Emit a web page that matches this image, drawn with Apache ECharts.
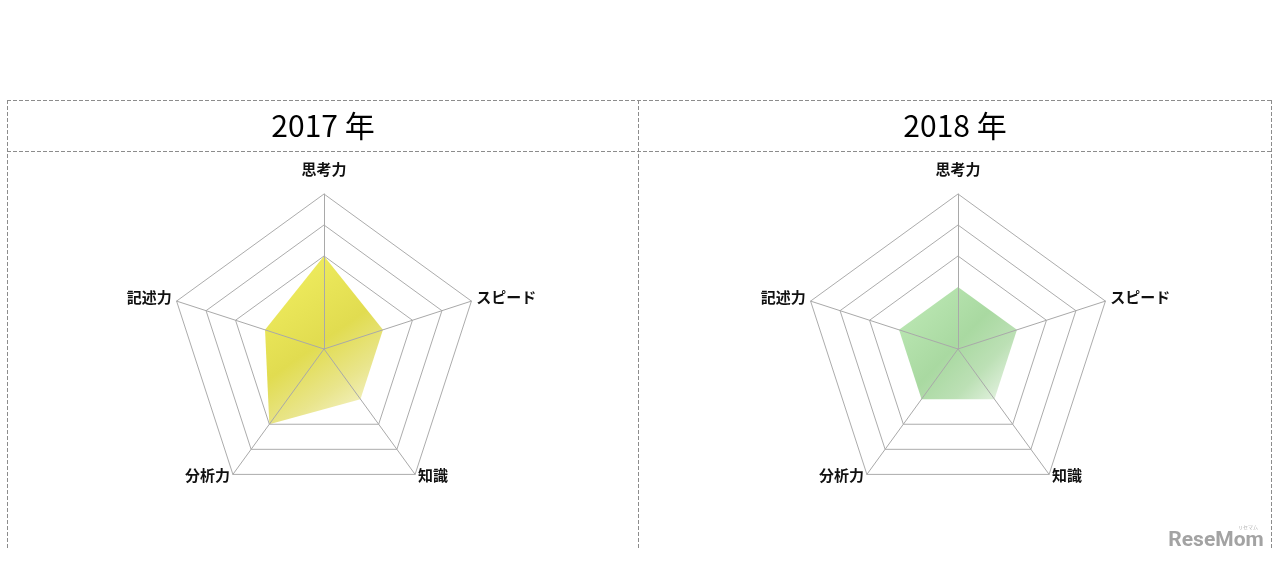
<!DOCTYPE html>
<html>
<head>
<meta charset="utf-8">
<script src="https://cdn.jsdelivr.net/npm/echarts@6/dist/echarts.min.js"></script>
<style>
html,body{margin:0;padding:0;background:#fff;}
#chart{width:1280px;height:564px;}
</style>
</head>
<body>
<div id="chart"></div>
<script>
// ---- data (indicators listed clockwise from the top, as in the picture) ----
const indicators = ['思考力', 'スピード', '知識', '分析力', '記述力'];
const values2017 = [3, 2, 2, 3, 2];
const values2018 = [2, 2, 2, 2, 2];
const panelTitles = ['2017 年', '2018 年'];
const axisMax = 5;

// ECharts lays indicators counter-clockwise; reorder so the picture reads clockwise
const ccwOrder = [0, 4, 3, 2, 1];
const ccw = arr => ccwOrder.map(i => arr[i]);

const chart = echarts.init(document.getElementById('chart'), null, {renderer: 'canvas'});

const labelFont = {fontSize: 15, fontWeight: 'bold', color: '#111', fontFamily: '"Noto Sans CJK JP", sans-serif'};

function radarComp(center) {
  return {
    center: center,
    radius: 155,
    startAngle: 90,
    shape: 'polygon',
    splitNumber: 5,
    z: 3,
    axisNameGap: 5,
    indicator: ccw(indicators).map(n => ({name: n, min: 0, max: axisMax})),
    axisName: Object.assign({}, labelFont, {
      formatter: function (name) {
        const i = indicators.indexOf(name);
        if (i === 0) return '{top|' + name + '}';
        if (i === 2 || i === 3) return '{low|' + name + '}';
        return '{side|' + name + '}';
      },
      rich: {
        top: Object.assign({}, labelFont, {padding: [0, 0, 12, 0]}),
        side: Object.assign({}, labelFont, {padding: [0, 0, 4, 0]}),
        low: Object.assign({}, labelFont, {padding: [0, 0, 7, 0]})
      }
    }),
    axisLine: {lineStyle: {color: '#a9a9a9', width: 1}},
    splitLine: {lineStyle: {color: ['rgba(0,0,0,0)', 'rgba(0,0,0,0)', 'rgba(0,0,0,0)', '#acacac', '#acacac', '#acacac'], width: 1}},
    splitArea: {show: false}
  };
}

const yellowFill = new echarts.graphic.LinearGradient(0, 0, 1, 1, [
  {offset: 0, color: '#F3F162'},
  {offset: 0.5, color: '#E1DC50'},
  {offset: 0.72, color: '#E9E58C'},
  {offset: 1, color: '#FBFAE8'}
]);
const greenFill = new echarts.graphic.LinearGradient(0, 0, 1, 1, [
  {offset: 0, color: '#C0EBB8'},
  {offset: 0.5, color: '#A9D9A1'},
  {offset: 0.72, color: '#BCE0B5'},
  {offset: 1, color: '#F1F8EF'}
]);

const dash = {stroke: '#8c8c8c', lineWidth: 1, lineDash: [4, 2]};
function vline(x, y1, y2) { return {type: 'line', silent: true, shape: {x1: x, y1: y1, x2: x, y2: y2}, style: dash}; }
function hline(y, x1, x2) { return {type: 'line', silent: true, shape: {x1: x1, y1: y, x2: x2, y2: y}, style: dash}; }

const option = {
  animation: false,
  backgroundColor: '#ffffff',
  radar: [radarComp([324, 349]), radarComp([958, 349])],
  series: [
    {
      type: 'radar', radarIndex: 0, z: 2, symbol: 'none',
      lineStyle: {width: 0, opacity: 0},
      areaStyle: {color: yellowFill, opacity: 1},
      data: [{value: ccw(values2017), name: panelTitles[0]}]
    },
    {
      type: 'radar', radarIndex: 1, z: 2, symbol: 'none',
      lineStyle: {width: 0, opacity: 0},
      areaStyle: {color: greenFill, opacity: 1},
      data: [{value: ccw(values2018), name: panelTitles[1]}]
    }
  ],
  graphic: [
    hline(100.5, 7, 1272),
    hline(151.5, 7, 1272),
    vline(7.5, 100, 548),
    vline(638.5, 100, 548),
    vline(1271.5, 100, 548),
    {type: 'text', silent: true, x: 323, y: 126,
     style: {text: panelTitles[0], fill: '#000', font: '30px "Noto Sans CJK JP", sans-serif', textAlign: 'center', textVerticalAlign: 'middle'}},
    {type: 'text', silent: true, x: 955, y: 126,
     style: {text: panelTitles[1], fill: '#000', font: '30px "Noto Sans CJK JP", sans-serif', textAlign: 'center', textVerticalAlign: 'middle'}},
    {type: 'text', silent: true, x: 1216, y: 541,
     style: {text: 'ReseMom', fill: '#a3a3a3', font: 'bold 21px Roboto, sans-serif', textAlign: 'center', textVerticalAlign: 'middle'}},
    {type: 'text', silent: true, x: 1248, y: 527,
     style: {text: 'リセマム', fill: '#b0b0b0', font: '5px "Noto Sans CJK JP", sans-serif', textAlign: 'center', textVerticalAlign: 'middle'}}
  ]
};
chart.setOption(option);
</script>
</body>
</html>
